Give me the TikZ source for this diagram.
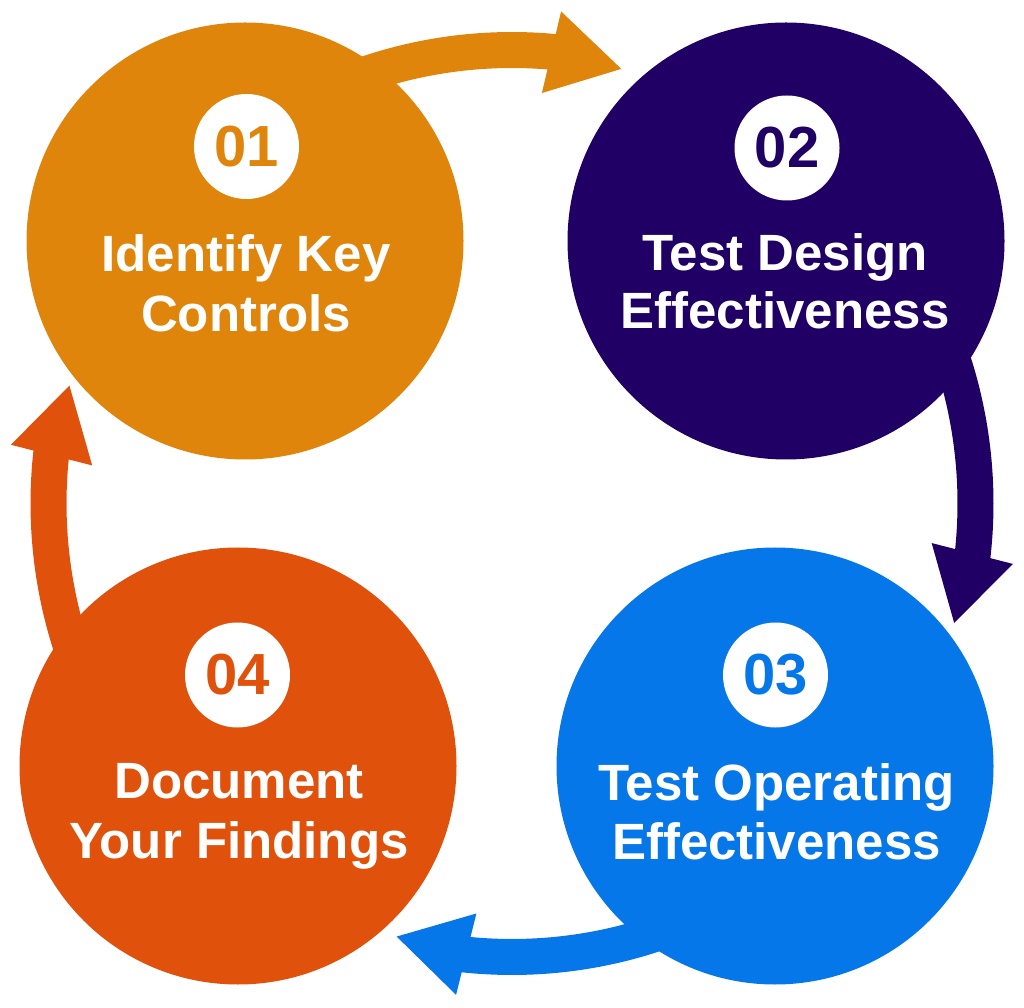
\documentclass[tikz,border=0pt]{standalone}
\usepackage{fontspec}
\setmainfont{Liberation Sans}
\usetikzlibrary{calc}
\definecolor{cOne}{HTML}{E0850C}
\definecolor{cTwo}{HTML}{200064}
\definecolor{cThree}{HTML}{0677E8}
\definecolor{cFour}{HTML}{E0520C}
\newcommand\cycarrow[5]{%
  \draw[band,#1] ($(O)+(#2:#4)$) coordinate (#5s) arc[start angle=#2, end angle=#3-0.6, radius=#4] coordinate (#5e);
  \begin{scope}[shift={($(O)+(#3:#4)$)}, rotate=#3-90]
    \fill[#1] (6,41) -- (71,-11) -- (-6,-42) -- cycle;
  \end{scope}}
\begin{document}
\begin{tikzpicture}[x=1pt,y=1pt,
  stage/.style={circle, minimum size=437pt, inner sep=0pt, draw=none},
  badge/.style={circle, fill=white, minimum size=105pt, inner sep=0pt, font=\fontsize{58}{62}\selectfont\bfseries},
  lbl/.style={anchor=base, text=white, inner sep=0pt, font=\fontsize{51}{60}\selectfont\bfseries},
  band/.style={line width=36pt, line cap=butt}]
\useasboundingbox (0,0) rectangle (1024,1007);
\coordinate (O) at (512,503.5);
% arrows
\cycarrow{cOne}{112}{85}{453.5}{aone}
\cycarrow{cTwo}{22}{-6.2}{463.5}{atwo}
\cycarrow{cThree}{-68}{-95.8}{453.5}{athree}
\cycarrow{cFour}{202}{174}{463.5}{afour}
% stages
\node[stage, fill=cOne] (s1) at (245,766) {};
\node[stage, fill=cTwo] (s2) at (786,766) {};
\node[stage, fill=cThree] (s3) at (775,241) {};
\node[stage, fill=cFour] (s4) at (238,241) {};
% badges
\node[badge, text=cOne] (b1) at (246.5,860.5) {01};
\node[badge, text=cTwo] (b2) at (787,859) {02};
\node[badge, text=cThree] (b3) at (775.5,332) {03};
\node[badge, text=cFour] (b4) at (237.5,332) {04};
% labels
\node[lbl] (t1a) at (246,735) {Identify Key};
\node[lbl] (t1b) at (246,675) {Controls};
\node[lbl] (t2a) at (785,736) {Test Design};
\node[lbl] (t2b) at (785,678) {Effectiveness};
\node[lbl] (t3a) at (776.5,207) {Test Operating};
\node[lbl] (t3b) at (776.5,148) {Effectiveness};
\node[lbl] (t4a) at (239,209) {Document};
\node[lbl] (t4b) at (239,149) {Your Findings};
\end{tikzpicture}
\end{document}
